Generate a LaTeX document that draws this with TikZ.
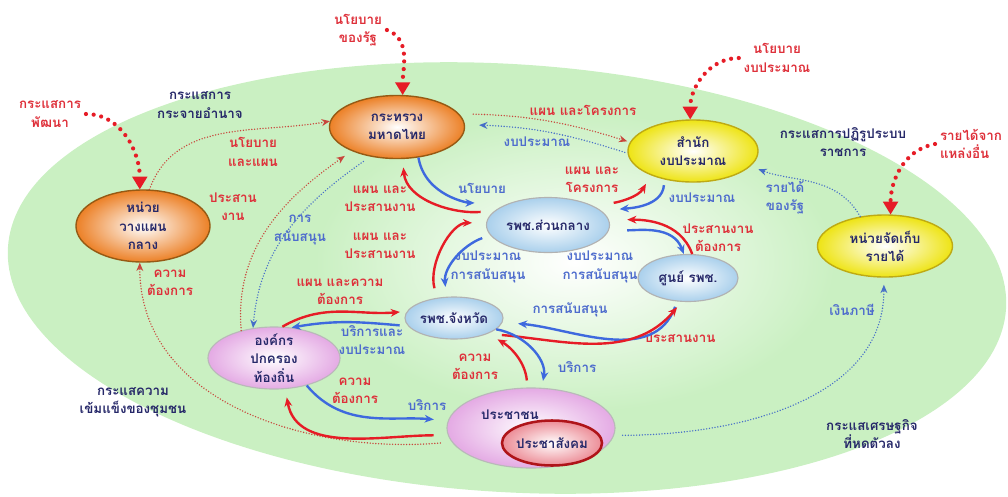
\documentclass[tikz,border=0pt]{standalone}
\usepackage{fontspec}
\setmainfont{Loma}[Script=Thai]
\usetikzlibrary{positioning, shapes.geometric, arrows.meta}
\definecolor{bggreen}{RGB}{202,240,194}
\definecolor{redtxt}{RGB}{222,48,58}
\definecolor{bluetxt}{RGB}{78,108,205}
\definecolor{navytxt}{RGB}{38,40,105}
\definecolor{redarr}{RGB}{230,28,38}
\definecolor{bluearr}{RGB}{62,105,222}
\tikzset{
	unit/.style={
		ellipse,
		inner sep=-3pt,
		align=center,
		text=navytxt,
		font=\bfseries\fontsize{9.5}{13}\selectfont,
		inner color=white,
	},
	orangeunit/.style={
		unit,
		outer color={rgb,255:red,236;green,128;blue,38},
		draw={rgb,255:red,150;green,90;blue,20},
		line width=1pt,
	},
	yellowunit/.style={
		unit,
		outer color={rgb,255:red,238;green,228;blue,20},
		draw={rgb,255:red,190;green,170;blue,20},
		line width=1pt,
	},
	blueunit/.style={
		unit,
		outer color={rgb,255:red,170;green,208;blue,236},
		draw=gray!60,
		line width=0.8pt,
	},
	pinkunit/.style={
		unit,
		outer color={rgb,255:red,228;green,170;blue,228},
		draw=gray!55,
		line width=0.8pt,
	},
	lbl/.style={
		align=center,
		font=\bfseries\fontsize{9.5}{13}\selectfont,
	},
	redlbl/.style={lbl, text=redtxt},
	bluelbl/.style={lbl, text=bluetxt},
	navylbl/.style={lbl, text=navytxt},
	bigflow/.style={
		redarr,
		line width=3pt,
		line cap=round,
		dash pattern=on 0pt off 5.5pt,
		-{Triangle[width=11pt,length=9pt,line width=0pt]},
	},
	reddot/.style={
		draw={rgb,255:red,200;green,70;blue,60},
		line width=1.1pt,
		line cap=round,
		dash pattern=on 0pt off 2pt,
		-{Stealth[length=6pt,width=5pt,line width=0pt]},
	},
	bluedot/.style={
		draw={rgb,255:red,70;green,110;blue,200},
		line width=1.1pt,
		line cap=round,
		dash pattern=on 0pt off 2pt,
		-{Stealth[length=6pt,width=5pt,line width=0pt]},
	},
	redflow/.style={redarr, line width=1.7pt, ->},
	blueflow/.style={bluearr, line width=1.7pt, ->},
}
\begin{document}
\begin{tikzpicture}[x=0.025cm, y=0.025cm, >={Stealth[length=6.5pt,width=5.5pt]}]
	\useasboundingbox (0,0) rectangle (1008,-496);
	\fill[bggreen, rotate around={-3.5:(507,-278)}] (507,-278) ellipse [x radius=500, y radius=214];
	\shade[inner color=white, outer color=bggreen] (575,-262) ellipse [x radius=260, y radius=150];

	\node[orangeunit, minimum width=3.35cm, minimum height=1.8cm] (nwp) at (143,-226) {หน่วย\\วางแผน\\กลาง};
	\node[orangeunit, minimum width=3.375cm, minimum height=1.575cm] (mt) at (397,-127) {กระทรวง\\มหาดไทย};
	\node[yellowunit, minimum width=3.25cm, minimum height=1.55cm] (sb) at (693,-151) {สำนัก\\งบประมาณ};
	\node[yellowunit, minimum width=3.375cm, minimum height=1.55cm] (ncr) at (885,-246) {หน่วยจัดเก็บ\\รายได้};
	\node[blueunit, minimum width=3.075cm, minimum height=1.375cm] (rc) at (548,-225) {รพช.ส่วนกลาง};
	\node[blueunit, minimum width=2.5cm, minimum height=1.175cm] (sr) at (688,-278) {ศูนย์ รพช.};
	\node[blueunit, minimum width=2.45cm, minimum height=1.05cm] (rj) at (454,-318) {รพช.จังหวัด};
	\node[pinkunit, minimum width=3.3cm, minimum height=1.55cm] (opt) at (274,-358) {องค์กร\\ปกครอง\\ท้องถิ่น};
	\node[pinkunit, minimum width=4.2cm, minimum height=2cm] (pc) at (531,-428) {};
	\node[unit, outer color={rgb,255:red,236;green,140;blue,150}, draw={rgb,255:red,175;green,20;blue,25}, line width=1.8pt, minimum width=2.5cm, minimum height=1.125cm] (ps) at (552,-443) {ประชาสังคม};
	\node[navylbl] (pctext) at (510,-415) {ประชาชน};

	\node[redlbl] (lpat) at (50,-114) {กระแสการ\\พัฒนา};
	\node[redlbl] (lstate) at (358,-30) {นโยบาย\\ของรัฐ};
	\node[redlbl] (lbud) at (777,-58) {นโยบาย\\งบประมาณ};
	\node[redlbl, align=left, anchor=east] (linc) at (1007,-144) {รายได้จาก\\แหล่งอื่น};
	\node[navylbl] (ldec) at (200,-105) {กระแสการ\\กระจายอำนาจ};
	\node[navylbl] (lref) at (843,-142) {กระแสการปฏิรูประบบ\\ราชการ};
	\node[navylbl] (lcom) at (133,-402) {กระแสความ\\เข้มแข็งของชุมชน};
	\node[navylbl] (leco) at (872,-434) {กระแสเศรษฐกิจ\\ที่หดตัวลง};

	\node[redlbl] (r1) at (253,-152) {นโยบาย\\และแผน};
	\node[redlbl] (r2) at (233,-207) {ประสาน\\งาน};
	\node[redlbl] (r3) at (170,-283) {ความ\\ต้องการ};
	\node[redlbl] (r4) at (583,-110) {แผน และโครงการ};
	\node[redlbl] (r5) at (380,-199) {แผน และ\\ประสานงาน};
	\node[redlbl] (r6) at (380,-246) {แผน และ\\ประสานงาน};
	\node[redlbl] (r7) at (340,-292) {แผน และความ\\ต้องการ};
	\node[redlbl] (r8) at (592,-180) {แผน และ\\โครงการ};
	\node[redlbl] (r9) at (718,-238) {ประสานงาน\\ต้องการ};
	\node[redlbl] (r10) at (680,-338) {ประสานงาน};
	\node[redlbl] (r11) at (475,-367) {ความ\\ต้องการ};
	\node[redlbl] (r12) at (355,-391) {ความ\\ต้องการ};

	\node[bluelbl] (b1) at (537,-142) {งบประมาณ};
	\node[bluelbl] (b2) at (482,-188) {นโยบาย};
	\node[bluelbl] (b3) at (300,-230) {การ\\สนับสนุน};
	\node[bluelbl] (b4) at (488,-267) {งบประมาณ\\การสนับสนุน};
	\node[bluelbl] (b5) at (600,-267) {งบประมาณ\\การสนับสนุน};
	\node[bluelbl] (b6) at (702,-198) {งบประมาณ};
	\node[bluelbl] (b7) at (785,-198) {รายได้\\ของรัฐ};
	\node[bluelbl] (b8) at (852,-310) {เงินภาษี};
	\node[bluelbl] (b9) at (570,-310) {การสนับสนุน};
	\node[bluelbl] (b10) at (372,-340) {บริการและ\\งบประมาณ};
	\node[bluelbl] (b11) at (577,-367) {บริการ};
	\node[bluelbl] (b12) at (427,-405) {บริการ};

	\draw[bigflow] (lpat.east) to[out=0, in=90] (nwp.95);
	\draw[bigflow] (lstate.east) to[out=-20, in=90] (mt.80);
	\draw[bigflow] (lbud.west) to[out=180, in=90] (sb.95);
	\draw[bigflow] (linc.west) to[out=190, in=90] (ncr.80);

	\draw[reddot] (nwp.80) to[out=70, in=190] (mt.175);
	\draw[reddot, shorten >=6pt] (opt.140) to[out=95, in=215] (mt.208);
	\draw[bluedot, shorten <=6pt] (mt.228) to[out=215, in=85] (opt.125);
	\draw[reddot, shorten <=8pt] (pc.190) to[out=185, in=270] (nwp.265);
	\draw[reddot, shorten <=10pt, shorten >=2pt] (mt.12) to[bend left=8] (sb.172);
	\draw[bluedot, shorten <=2pt, shorten >=10pt] (sb.182) to[bend right=8] (mt.2);
	\draw[bluedot, shorten >=6pt] (ncr.130) to[out=120, in=-20] (sb.-15);
	\draw[bluedot, shorten <=6pt, shorten >=5pt] (pc.-5) to[out=0, in=270] (ncr.268);

	\draw[redflow, shorten <=10pt, shorten >=6pt] (rc.165) to[out=185, in=-85] (mt.280);
	\draw[blueflow, shorten >=25pt] (mt.305) to[out=-80, in=180] (rc.150);
	\draw[redflow, shorten <=7pt, shorten >=10pt] (rj.130) to[out=105, in=180] (rc.178);
	\draw[blueflow, shorten <=6pt, shorten >=7pt] (rc.190) to[out=200, in=95] (rj.110);
	\draw[redflow, shorten <=14pt, shorten >=7pt] (rc.22) to[out=10, in=-120] (sb.210);
	\draw[blueflow, shorten <=4pt, shorten >=13pt] (sb.225) to[out=-95, in=5] (rc.15);
	\draw[redflow, shorten >=13pt] (sr.80) to[out=110, in=0] (rc.5);
	\draw[blueflow, shorten <=13pt] (rc.-5) to[out=0, in=110] (sr.100);
	\draw[blueflow, shorten <=4pt, shorten >=11pt] (sr.245) to[out=-110, in=-5] (rj.-5);
	\draw[redflow, shorten <=10pt, shorten >=5pt] (rj.-25) to[out=-5, in=-130] (sr.255);
	\draw[redflow, shorten >=5pt] (opt.75) to[out=30, in=185] (rj.172);
	\draw[blueflow, shorten <=6pt] (rj.190) to[out=175, in=10] (opt.60);
	\draw[redflow, shorten <=5pt, shorten >=8pt] (pc.95) to[out=95, in=-30] (rj.-25);
	\draw[blueflow, shorten >=5pt] (rj.-15) to[out=-10, in=80] (pc.75);
	\draw[blueflow, shorten >=10pt] (opt.-40) to[out=-50, in=175] (pc.175);
	\draw[redflow, shorten <=10pt, shorten >=6pt] (pc.185) to[out=180, in=-80] (opt.-70);
\end{tikzpicture}
\end{document}
